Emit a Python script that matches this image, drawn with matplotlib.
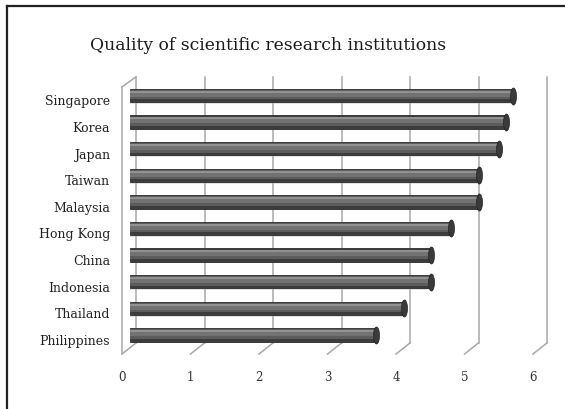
import numpy as np
import matplotlib
matplotlib.use('Agg')
import matplotlib.pyplot as plt
from matplotlib.lines import Line2D
from matplotlib.path import Path

# data
countries = ["Singapore", "Korea", "Japan", "Taiwan", "Malaysia",
             "Hong Kong", "China", "Indonesia", "Thailand", "Philippines"]
scores = [5.6, 5.5, 5.4, 5.1, 5.1, 4.7, 4.4, 4.4, 4.0, 3.6]
x_ticks = [0, 1, 2, 3, 4, 5, 6]
title = "Quality of scientific research institutions"

plt.rcParams['font.family'] = ['DejaVu Serif']

fig = plt.figure(figsize=(5.65, 4.10), dpi=100)
# one data unit = 68.5 px in x, one row = 26.6 px in y
ax = fig.add_axes([0.2050, 0.051, 0.7881, 0.7785])
ax.set_xlim(-0.2, 6.3)
ax.set_ylim(11.0, -1.0)
ax.axis('off')

y = np.arange(len(countries))

# fake 3D depth offsets (data units)
back_dx, front_dx = 0.095, -0.11
back_top, back_bot, front_top, front_bot = -0.70, 9.30, -0.32, 9.72
grid_col = '#a8a8a8'

# back wall gridlines + floor diagonals
for t in x_ticks:
    ax.plot([t + back_dx, t + back_dx], [back_top, back_bot], color=grid_col, lw=1.1, zorder=1)
    ax.plot([t + back_dx, t + front_dx], [back_bot, front_bot], color=grid_col, lw=1.1, zorder=1)
    ax.text(t + front_dx, 10.55, str(t), ha='center', va='center', fontsize=8.5, color='#333333')

# left side wall
ax.plot([front_dx, front_dx], [front_top, front_bot], color=grid_col, lw=1.1, zorder=1)
ax.plot([front_dx, back_dx], [front_top, back_top], color=grid_col, lw=1.1, zorder=1)

# cylinder bars: stacked layers for shading
bar_h = 0.50
ax.barh(y + 0.06, scores, height=bar_h, color='#b8b8b8', alpha=0.4, zorder=2)  # soft shadow
ax.barh(y, scores, height=bar_h, color='#3c3c3c', edgecolor='#2e2e2e', lw=0.6, zorder=3)
ax.barh(y - 0.03, scores, height=bar_h * 0.72, color='#5c5c5c', zorder=4)
ax.barh(y - 0.06, scores, height=bar_h * 0.45, color='#727272', zorder=5)
ax.barh(y - 0.14, scores, height=bar_h * 0.14, color='#929292', zorder=6)

# rounded caps at the bar ends
th = np.linspace(0, 2 * np.pi, 40)
cap = Path(np.column_stack([0.35 * np.cos(th), np.sin(th)]))
ax.scatter(scores, y, marker=cap, s=150, color='#3a3a3a', edgecolor='#222222',
           lw=0.5, zorder=7)

# category labels on the front plane
for yi, name in zip(y, countries):
    ax.text(-0.285, yi + 0.2, name, ha='right', va='center', fontsize=9, color='#222222')

fig.text(0.474, 0.89, title, ha='center', va='center', fontsize=12.3, color='#1a1a1a')

# outer frame (left and top edges only)
fig.add_artist(Line2D([7 / 565, 7 / 565], [0, 1 - 7 / 410], color='#222222', lw=1.6))
fig.add_artist(Line2D([7 / 565, 1], [1 - 7 / 410, 1 - 7 / 410], color='#222222', lw=1.6))

fig.savefig('out.png', dpi=100)
